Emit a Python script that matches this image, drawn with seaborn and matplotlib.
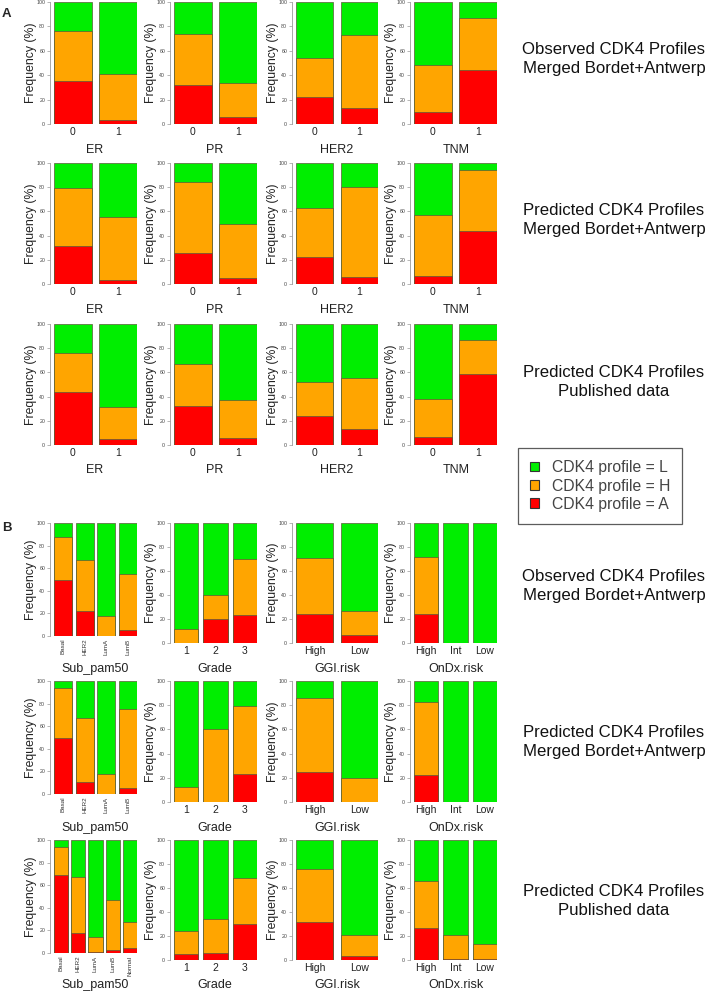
import matplotlib
matplotlib.use("Agg")
import matplotlib.pyplot as plt
from matplotlib.patches import Patch
import seaborn as sns

# ---------------- data (percent of A / H per category; L = remainder) ----------------
a_vars = ["ER", "PR", "HER2", "TNM"]
a_cats = ["0", "1"]

# Panel A, row 1: Observed CDK4 profiles, merged Bordet+Antwerp
a1_A = [[35, 3], [32, 6], [22, 13], [10, 44]]
a1_H = [[41, 38], [42, 28], [32, 60], [38, 43]]
# Panel A, row 2: Predicted, merged
a2_A = [[31, 3], [26, 5], [22, 6], [7, 44]]
a2_H = [[48, 52], [58, 45], [41, 74], [50, 50]]
# Panel A, row 3: Predicted, published data
a3_A = [[44, 5], [32, 6], [24, 13], [7, 59]]
a3_H = [[32, 26], [35, 31], [28, 42], [31, 28]]

b_vars = ["Sub_pam50", "Grade", "GGI.risk", "OnDx.risk"]
b_cats_12 = [["Basal", "HER2", "LumA", "LumB"], ["1", "2", "3"], ["High", "Low"], ["High", "Int", "Low"]]
b_cats_3 = [["Basal", "HER2", "LumA", "LumB", "Normal"], ["1", "2", "3"], ["High", "Low"], ["High", "Int", "Low"]]

# Panel B, row 1: Observed, merged
b1_A = [[50, 22, 0, 5], [0, 20, 23], [24, 7], [24, 0, 0]]
b1_H = [[38, 45, 18, 50], [12, 20, 47], [47, 20], [48, 0, 0]]
# Panel B, row 2: Predicted, merged
b2_A = [[50, 11, 0, 5], [0, 0, 23], [25, 0], [22, 0, 0]]
b2_H = [[44, 56, 18, 70], [12, 60, 56], [61, 20], [61, 0, 0]]
# Panel B, row 3: Predicted, published data
b3_A = [[69, 18, 1, 3, 4], [5, 6, 30], [32, 3], [27, 1, 0.5]]
b3_H = [[25, 49, 13, 44, 23], [19, 28, 38], [44, 18], [39, 20, 12.5]]

legend_labels = ["CDK4 profile = L", "CDK4 profile = H", "CDK4 profile = A"]
row_texts = ["Observed CDK4 Profiles\nMerged Bordet+Antwerp",
             "Predicted CDK4 Profiles\nMerged Bordet+Antwerp",
             "Predicted CDK4 Profiles\nPublished data"]

# ---------------- style ----------------
sns.set_style("white")
plt.rcParams["font.family"] = ["Liberation Sans", "DejaVu Sans"]

C_L, C_H, C_A = "#00ee00", "#ffa500", "#ff0000"
EDGE = "#5a5a3a"

W, H = 709, 994
fig = plt.figure(figsize=(W / 100, H / 100), dpi=100)

col_x0 = [50, 170, 292, 410]
col_x1 = [137, 257, 378, 497]
col_cx = [95, 215, 337, 456]


def add_axes(x0, y_top, x1, y_bot):
    return fig.add_axes([x0 / W, 1 - y_bot / H, (x1 - x0) / W, (y_bot - y_top) / H])


def panel(ax, cats, A, Hh, small_labels=False):
    n = len(cats)
    total = [100] * n
    ah = [a + h for a, h in zip(A, Hh)]
    for vals, col in ((total, C_L), (ah, C_H), (A, C_A)):
        sns.barplot(x=cats, y=vals, order=cats, color=col, saturation=1,
                    width=0.8333, edgecolor=EDGE, linewidth=0.5,
                    errorbar=None, ax=ax)
    bbox = ax.get_position()
    wpx = bbox.width * W
    span = n - 1 + 0.8333
    upx = span / (wpx - 4)
    ax.set_xlim(-0.4167 - 4 * upx, n - 1 + 0.4167)
    ax.set_ylim(0, 100)
    for s in ["top", "right", "bottom"]:
        ax.spines[s].set_visible(False)
    ax.spines["left"].set_color("#9a9a9a")
    ax.spines["left"].set_linewidth(0.6)
    ax.set_yticks([0, 20, 40, 60, 80, 100])
    ax.tick_params(axis="y", labelsize=3.8, labelcolor="#444444", length=2.5,
                   width=0.5, color="#9a9a9a", pad=1, left=True)
    if small_labels:
        ax.tick_params(axis="x", labelsize=4.5, length=0, pad=2, labelrotation=90,
                       labelcolor="#333333")
    else:
        ax.tick_params(axis="x", labelsize=7.5, length=0, pad=2, labelcolor="#222222")
    ax.set_xlabel("")
    ax.set_ylabel("Frequency (%)", fontsize=8.8, color="#222222")
    ax.yaxis.set_label_coords(-13 / wpx, 0.5)
    ax.grid(False)


# Panel A
a_rows = [(2, 124, a1_A, a1_H, 150), (163, 284, a2_A, a2_H, 310), (324, 445, a3_A, a3_H, 470)]
for (yt, yb, AA, HH, ty) in a_rows:
    for j in range(4):
        ax = add_axes(col_x0[j], yt, col_x1[j], yb)
        panel(ax, a_cats, AA[j], HH[j])
        fig.text(col_cx[j] / W, 1 - ty / H, a_vars[j], ha="center", va="center",
                 fontsize=9, color="#222222")

# Panel B
b_rows = [(523, 643, 636, b1_A, b1_H, b_cats_12, 669),
          (681, 802, 794, b2_A, b2_H, b_cats_12, 828),
          (840, 960, 953, b3_A, b3_H, b_cats_3, 985)]
for (yt, yb, yb_sub, AA, HH, cats, ty) in b_rows:
    for j in range(4):
        ybot = yb_sub if j == 0 else yb
        ax = add_axes(col_x0[j], yt, col_x1[j], ybot)
        panel(ax, cats[j], AA[j], HH[j], small_labels=(j == 0))
        fig.text(col_cx[j] / W, 1 - ty / H, b_vars[j], ha="center", va="center",
                 fontsize=9, color="#222222")

# Row descriptions on the right
for ty, txt in zip([59, 220, 382, 586, 742, 901], row_texts + row_texts):
    fig.text(614 / W, 1 - ty / H, txt, ha="center", va="center", fontsize=12.1,
             multialignment="center", linespacing=1.4, color="#111111")

# Panel letters
fig.text(2 / W, 1 - 14 / H, "A", fontsize=9.5, fontweight="bold", va="center")
fig.text(2 / W, 1 - 528 / H, "B", fontsize=9.5, fontweight="bold", va="center")

# Legend
handles = [Patch(facecolor=c, edgecolor="#333333", linewidth=0.8) for c in (C_L, C_H, C_A)]
leg = fig.legend(handles, legend_labels, loc="center", bbox_to_anchor=(600 / W, 1 - 486 / H),
                 fontsize=11.3, frameon=True, fancybox=False, handlelength=0.6,
                 handleheight=0.6, handletextpad=0.8, labelspacing=0.22,
                 borderpad=0.75, borderaxespad=0)
leg.get_frame().set_edgecolor("#333333")
leg.get_frame().set_linewidth(0.9)
for t in leg.get_texts():
    t.set_color("#444444")

fig.savefig("out.png", dpi=100)
